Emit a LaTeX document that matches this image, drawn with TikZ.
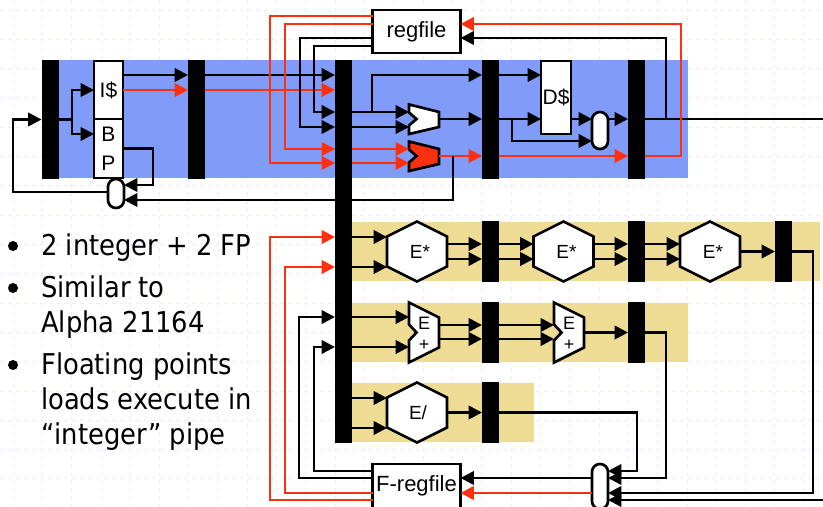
\documentclass[tikz,border=0pt]{standalone}
\usepackage{fontspec}
\setmainfont{Liberation Sans}
\newfontfamily\bulletfont{DejaVu Sans Condensed}
\usetikzlibrary{arrows.meta}
\definecolor{stageblue}{RGB}{128,156,248}
\definecolor{pipetan}{RGB}{238,220,148}
\definecolor{wirered}{RGB}{255,48,16}
\definecolor{gridblue}{RGB}{234,239,252}
\tikzstyle{gridline} = [gridblue, line width=0.6pt, dashed]
\tikzstyle{band} = [fill=stageblue, draw=none]
\tikzstyle{tanband} = [fill=pipetan, draw=none]
\tikzstyle{wire} = [line width=2pt, line join=miter]
\tikzstyle{redwire} = [wire, color=wirered]
\tikzstyle{latch} = [rectangle, fill=black, inner sep=0, outer sep=0, minimum width=12.75pt, minimum height=89.25pt]
\tikzstyle{shortlatch} = [latch, minimum height=45.75pt]
\tikzstyle{box} = [rectangle, draw, fill=white, line width=2pt, inner sep=0, outer sep=0, font=\fontsize{16.5}{20}\selectfont]
\tikzstyle{mux} = [box, rounded corners=5.9pt, minimum width=12pt]
\tikzstyle{hexunit} = [rectangle, inner sep=0, outer sep=0, minimum width=45pt, minimum height=44.25pt, font=\fontsize{14.25}{16}\selectfont]
\tikzstyle{alubase} = [rectangle, inner sep=0, outer sep=0, minimum width=22.5pt, minimum height=44.25pt]
\tikzstyle{unittext} = [inner sep=0, font=\fontsize{13.5}{16}\selectfont]
\tikzstyle{dot} = [circle, fill=black, inner sep=0, minimum size=7.5pt]
\tikzstyle{point} = [anchor=base west, inner sep=0, align=left, font=\bulletfont\fontsize{21.5}{26}\selectfont]
\tikzset{
  alu/.pic={\path [draw, line width=2pt, pic actions] (-15,-14.5) -- (15,-7) -- (15,8) -- (-15,15) -- (-15,6.5) -- (-7.5,0) -- (-15,-6.5) -- cycle;},
  adder/.pic={\path [draw, line width=2pt, pic actions] (-15,-30) -- (15,-15) -- (15,15) -- (-15,30) -- (-15,8) -- (-7.5,0) -- (-15,-8) -- cycle;},
  hexa/.pic={\path [draw, line width=2pt, pic actions] (-30,-15) -- (0,-30) -- (30,-15) -- (30,15) -- (0,30) -- (-30,15) -- cycle;}
}
\begin{document}
\begin{tikzpicture}[x=0.75pt, y=-0.75pt, >={Triangle[length=10pt,width=10pt]}]
    \useasboundingbox (0,0) rectangle (823,506);

    % faint grid of the slide
    \foreach \gx in {13,42.3,...,823} \draw [gridline] (\gx,0) -- (\gx,506);
    \foreach \gy in {10,39.3,...,506} \draw [gridline] (0,\gy) -- (823,\gy);

    % bands behind the pipes
    \fill [band] (58,60) rectangle (688,178);
    \fill [tanband] (352,222) rectangle (820,281);
    \fill [tanband] (352,303) rectangle (688,362);
    \fill [tanband] (352,383) rectangle (534,442);

    % latches
    \node [latch] (fetch) at (50,119.5) {};
    \node [latch] (decode) at (196.5,119.5) {};
    \node [latch, minimum height=287.25pt] (issue) at (343.5,251.5) {};
    \node [latch] (exec) at (490.5,119.5) {};
    \node [latch] (mem) at (636.5,119.5) {};
    \node [shortlatch] (mul1) at (490.5,251.5) {};
    \node [shortlatch] (mul2) at (636.5,251.5) {};
    \node [shortlatch] (mul3) at (783.5,251.5) {};
    \node [shortlatch] (add1) at (490.5,332.5) {};
    \node [shortlatch] (add2) at (636.5,332.5) {};
    \node [shortlatch] (div1) at (490.5,412.5) {};

    % memories and muxes
    \node [box, minimum width=66pt, minimum height=32.25pt] (regfile) at (416.5,31.5) {regfile};
    \node [box, minimum width=66pt, minimum height=33pt] (fregfile) at (416.5,486) {F-regfile};
    \node [box, minimum width=21.75pt, minimum height=43.5pt, font=\fontsize{15.75}{20}\selectfont] (icache) at (108.5,90) {I\$};
    \node [box, minimum width=21.75pt, minimum height=44.25pt, align=center, font=\fontsize{15.75}{21.75}\selectfont] (bpred) at (108.5,148.5) {B\\P};
    \node [box, minimum width=22.5pt, minimum height=54.75pt, font=\fontsize{15.75}{20}\selectfont] (dcache) at (556,97.5) {D\$};
    \node [mux, minimum height=21.75pt] (fetchmux) at (116,193.5) {};
    \node [mux, minimum height=27.75pt] (memmux) at (600,130.5) {};
    \node [mux, minimum height=33.75pt] (wbmux) at (600,486.5) {};

    % execution units
    \pic [fill=white] at (417,251.5) {hexa};
    \pic [fill=white] at (563.5,251.5) {hexa};
    \pic [fill=white] at (710,251.5) {hexa};
    \pic [fill=white] at (417,412.5) {hexa};
    \node [hexunit, text height=11pt] (emul1) at (417,251.5) {\hspace{4.5pt}E*};
    \node [hexunit, text height=11pt] (emul2) at (563.5,251.5) {\hspace{4.5pt}E*};
    \node [hexunit, text height=11pt] (emul3) at (710,251.5) {\hspace{4.5pt}E*};
    \node [hexunit] (ediv) at (417,412.5) {\hspace{1.5pt}E/};
    \node [alubase] (alu1) at (424,119) {};
    \node [alubase] (alu2) at (424,156) {};
    \node [alubase] (eadd1) at (424,332.5) {};
    \node [alubase] (eadd2) at (569,332.5) {};
    \pic [fill=white] at (alu1) {alu};
    \pic [fill=wirered] at (alu2) {alu};
    \pic [fill=white] at (eadd1) {adder};
    \pic [fill=white] at (eadd2) {adder};
    \node [unittext] (eadd1e) at (424,323) {E};
    \node [unittext] (eadd1p) at (424,345) {+};
    \node [unittext] (eadd2e) at (569,323) {E};
    \node [unittext] (eadd2p) at (569,345) {+};

    % junctions and free ends
    \coordinate (fetchtap) at (72,119.5);
    \coordinate (aluin) at (372,112);
    \coordinate (alutap) at (453,156);
    \coordinate (exectap) at (512,119);
    \coordinate (memtap) at (666,119);
    \coordinate (intexit) at (823,119);
    \coordinate (fpexit) at (823,500);

    % fetch
    \draw [->,wire] (fetch.east) -- (fetchtap) |- (icache.west);
    \draw [->,wire] (fetch.east) -- (fetchtap) |- (bpred.west |- 0,134);
    \draw [->,wire] (fetchmux.west |- 0,192) -| (13,119.5) -- (fetch.west);
    \draw [->,wire] (bpred.east) -- (153,148.5) |- (fetchmux.east |- 0,185);
    \draw [->,wire] (icache.east |- 0,75) -- (decode.west |- 0,75);
    \draw [->,redwire] (icache.east) -- (decode.west |- 0,90);
    \draw [->,wire] (decode.east |- 0,75) -- (issue.west |- 0,75);
    \draw [->,redwire] (decode.east |- 0,90) -- (issue.west |- 0,90);

    % regfile -> issue
    \draw [->,redwire] (regfile.west |- 0,16) -| (270,163) -- (issue.west |- 0,163);
    \draw [->,redwire] (regfile.west |- 0,24) -| (285,149) -- (issue.west |- 0,149);
    \draw [->,wire] (regfile.west |- 0,38) -| (300,127) -- (issue.west |- 0,127);
    \draw [->,wire] (regfile.west |- 0,46) -| (314,112) -- (issue.west |- 0,112);

    % integer pipes
    \draw [->,wire] (issue.east |- 0,112) -- (alu1.west |- 0,112);
    \draw [->,wire] (issue.east |- 0,127) -- (alu1.west |- 0,127);
    \draw [->,wire] (aluin) |- (exec.west |- 0,75);
    \draw [->,redwire] (issue.east |- 0,149) -- (alu2.west |- 0,149);
    \draw [->,redwire] (issue.east |- 0,163) -- (alu2.west |- 0,163);
    \draw [->,wire] (alu1.east) -- (exec.west |- alu1.east);
    \draw [->,redwire] (alu2.east) -- (exec.west |- alu2.east);
    \draw [->,wire] (alutap) |- (fetchmux.east |- 0,200);
    \draw [->,wire] (exec.east |- 0,75) -- (dcache.west |- 0,75);
    \draw [->,wire] (exec.east |- 0,119) -- (dcache.west |- 0,119);
    \draw [->,wire] (exectap) |- (memmux.west |- 0,141);
    \draw [->,wire] (dcache.east |- 0,119) -- (memmux.west |- 0,119);
    \draw [->,wire] (memmux.east |- 0,119) -- (mem.west |- 0,119);
    \draw [->,redwire] (exec.east |- 0,156) -- (mem.west |- 0,156);

    % writeback to regfile
    \draw [wire] (mem.east |- 0,119) -- (intexit);
    \draw [->,wire] (memtap) |- (regfile.east |- 0,38);
    \draw [->,redwire] (mem.east |- 0,156) -| (681,24) -- (regfile.east |- 0,24);

    % F-regfile -> issue
    \draw [->,redwire] (fregfile.west |- 0,500) -| (270,237) -- (issue.west |- 0,237);
    \draw [->,redwire] (fregfile.west |- 0,493) -| (285,267) -- (issue.west |- 0,267);
    \draw [->,wire] (fregfile.west |- 0,478) -| (299,317) -- (issue.west |- 0,317);
    \draw [->,wire] (fregfile.west |- 0,471) -| (314,347) -- (issue.west |- 0,347);

    % multiply pipe
    \draw [->,wire] (issue.east |- 0,237) -- (emul1.west |- 0,237);
    \draw [->,wire] (issue.east |- 0,267) -- (emul1.west |- 0,267);
    \draw [->,wire] (emul1.east |- 0,244) -- (mul1.west |- 0,244);
    \draw [->,wire] (emul1.east |- 0,259) -- (mul1.west |- 0,259);
    \draw [->,wire] (mul1.east |- 0,244) -- (emul2.west |- 0,244);
    \draw [->,wire] (mul1.east |- 0,259) -- (emul2.west |- 0,259);
    \draw [->,wire] (emul2.east |- 0,244) -- (mul2.west |- 0,244);
    \draw [->,wire] (emul2.east |- 0,259) -- (mul2.west |- 0,259);
    \draw [->,wire] (mul2.east |- 0,244) -- (emul3.west |- 0,244);
    \draw [->,wire] (mul2.east |- 0,259) -- (emul3.west |- 0,259);
    \draw [->,wire] (emul3.east) -- (mul3.west);
    \draw [->,wire] (mul3.east) -| (813,493) -- (wbmux.east |- 0,493);

    % add pipe
    \draw [->,wire] (issue.east |- 0,317) -- (eadd1.west |- 0,317);
    \draw [->,wire] (issue.east |- 0,347) -- (eadd1.west |- 0,347);
    \draw [->,wire] (eadd1.east |- 0,325) -- (add1.west |- 0,325);
    \draw [->,wire] (eadd1.east |- 0,339) -- (add1.west |- 0,339);
    \draw [->,wire] (add1.east |- 0,325) -- (eadd2.west |- 0,325);
    \draw [->,wire] (add1.east |- 0,339) -- (eadd2.west |- 0,339);
    \draw [->,wire] (eadd2.east) -- (add2.west);
    \draw [->,wire] (add2.east) -| (666,478) -- (wbmux.east |- 0,478);

    % divide pipe
    \draw [->,wire] (issue.east |- 0,398) -- (ediv.west |- 0,398);
    \draw [->,wire] (issue.east |- 0,428) -- (ediv.west |- 0,428);
    \draw [->,wire] (ediv.east) -- (div1.west);
    \draw [->,wire] (div1.east) -| (637,471) -- (wbmux.east |- 0,471);

    % writeback to F-regfile
    \draw [->,wire] (fpexit) -- (wbmux.east |- 0,500);
    \draw [->,wire] (wbmux.west |- 0,478) -- (fregfile.east |- 0,478);
    \draw [->,redwire] (wbmux.west |- 0,493) -- (fregfile.east |- 0,493);

    % bullet points
    \node [dot] (dot1) at (13,246) {};
    \node [dot] (dot2) at (13,288) {};
    \node [dot] (dot3) at (13,365) {};
    \node [point] (text1) at (41,255) {2 integer + 2 FP};
    \node [point] (text2) at (41,332) {Similar to\\Alpha 21164};
    \node [point] (text3) at (41,444) {Floating points\\loads execute in\\“integer” pipe};
\end{tikzpicture}
\end{document}
